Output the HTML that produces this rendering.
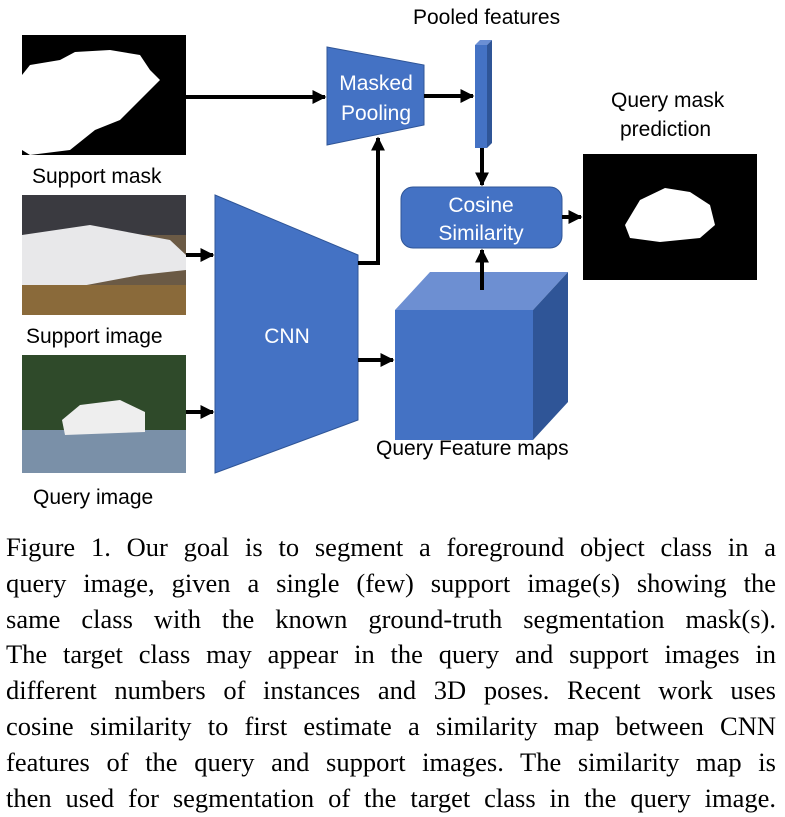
<!DOCTYPE html>
<html><head><style>
body{margin:0;background:#fff;width:785px;height:817px;overflow:hidden;position:relative;font-family:"Liberation Sans",sans-serif}
.lbl{position:absolute;font-size:21px;color:#000;white-space:nowrap}
.cap{position:absolute;left:6px;top:530px;width:770px;font-family:"Liberation Serif",serif;font-size:26.5px;line-height:35.8px;color:#000}
.cap div{text-align:justify;text-align-last:justify;white-space:nowrap;word-spacing:-1px}
</style></head><body>
<svg width="785" height="520" style="position:absolute;left:0;top:0">
<defs>
<marker id="b" viewBox="0 0 10 10" markerWidth="14" markerHeight="14" refX="9" refY="5" orient="auto" markerUnits="userSpaceOnUse"><path d="M0,0 L10,5 L0,10z" fill="#000"/></marker></defs>
<rect x="22" y="35" width="164" height="120" fill="#000"/>
<path d="M30,65 L60,60 L75,52 L110,50 L140,55 L150,70 L160,80 L140,100 L120,120 L95,130 L70,150 L30,155 L22,150 L22,75z" fill="#fff"/>
<rect x="22" y="195" width="164" height="120" fill="#6b5a45"/>
<rect x="22" y="195" width="164" height="40" fill="#3a3a40"/>
<path d="M22,235 L90,225 L170,240 L186,255 L186,270 L140,275 L60,290 L22,285z" fill="#e8e8ea"/>
<rect x="22" y="285" width="164" height="30" fill="#8a6a3a"/>
<rect x="22" y="355" width="164" height="118" fill="#2f4a2a"/>
<rect x="22" y="430" width="164" height="43" fill="#7a90a8"/>
<path d="M62,420 L80,405 L120,400 L145,412 L145,432 L65,435z" fill="#eee"/>
<polygon points="215,195 358,255 358,420 215,473" fill="#4472C4" stroke="#2f5597"/>
<polygon points="327,47 424,65 424,125 327,145" fill="#4472C4" stroke="#2f5597"/>
<polygon points="475,45 480,40 492,40 487,45" fill="#6b8fd4"/>
<polygon points="487,45 492,40 492,143 487,148" fill="#2f5597"/>
<rect x="475" y="45" width="12" height="103" fill="#4472C4"/>
<rect x="401" y="187" width="161" height="61" rx="12" fill="#4472C4" stroke="#2f5597"/>
<polygon points="395,310 430,272 568,272 533,310" fill="#6d8fd2"/>
<polygon points="533,310 568,272 568,402 533,440" fill="#2f5597"/>
<rect x="395" y="310" width="138" height="130" fill="#4472C4"/>
<rect x="583" y="154" width="174" height="126" fill="#000"/>
<path d="M625,225 L640,200 L665,188 L690,192 L710,205 L715,225 L700,238 L660,242 L630,238z" fill="#fff"/>
<g stroke="#000" stroke-width="4" fill="none">
<line x1="186" y1="97" x2="325" y2="97" marker-end="url(#b)"/>
<line x1="424" y1="96" x2="473" y2="96" marker-end="url(#b)"/>
<line x1="482" y1="148" x2="482" y2="185" marker-end="url(#b)"/>
<polyline points="358,263 378,263 378,138" marker-end="url(#b)"/>
<line x1="186" y1="255" x2="213" y2="255" marker-end="url(#b)"/>
<line x1="186" y1="412" x2="213" y2="412" marker-end="url(#b)"/>
<line x1="358" y1="360" x2="393" y2="360" marker-end="url(#b)"/>
<line x1="482" y1="290" x2="482" y2="250" marker-end="url(#b)"/>
<line x1="562" y1="217" x2="581" y2="217" marker-end="url(#b)"/>
</g>
<g fill="#fff" font-family="Liberation Sans, sans-serif" font-size="21" text-anchor="middle">
<text x="376" y="90">Masked</text><text x="376" y="120">Pooling</text>
<text x="481" y="212">Cosine</text><text x="481" y="240">Similarity</text>
<text x="287" y="343">CNN</text>
</g>
</svg>
<div class="lbl" style="left:413px;top:6px">Pooled features</div>
<div class="lbl" style="left:611px;top:89px">Query mask</div>
<div class="lbl" style="left:620px;top:118px">prediction</div>
<div class="lbl" style="left:32px;top:165px">Support mask</div>
<div class="lbl" style="left:26px;top:325px">Support image</div>
<div class="lbl" style="left:376px;top:437px">Query Feature maps</div>
<div class="lbl" style="left:33px;top:486px">Query image</div>
<div class="cap">
<div>Figure 1. Our goal is to segment a foreground object class in a</div>
<div>query image, given a single (few) support image(s) showing the</div>
<div>same class with the known ground-truth segmentation mask(s).</div>
<div>The target class may appear in the query and support images in</div>
<div>different numbers of instances and 3D poses. Recent work uses</div>
<div>cosine similarity to first estimate a similarity map between CNN</div>
<div>features of the query and support images. The similarity map is</div>
<div>then used for segmentation of the target class in the query image.</div>
</div>
</body></html>
